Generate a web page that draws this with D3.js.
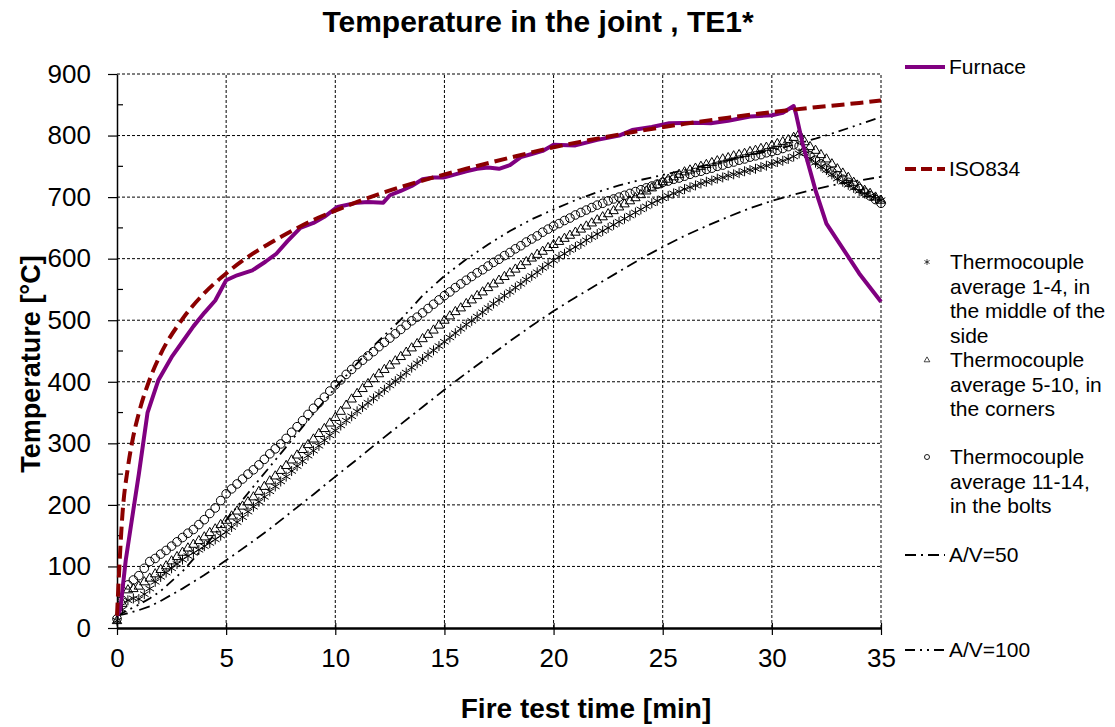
<!DOCTYPE html>
<html>
<head>
<meta charset="utf-8">
<script src="https://cdn.jsdelivr.net/npm/d3@7"></script>
<style>
  body { margin: 0; background: #fff; }
  svg { font-family: "Liberation Sans", Arial, sans-serif; }
</style>
</head>
<body>
<div id="vis"></div>
<script>
// ************************** DATA **************************//

// furnace measurement (time in min, temperature in °C)
var furnaceTime = [0, 0.15, 0.4, 0.75, 1, 1.4, 1.9, 2.5, 3, 3.5, 4, 4.5, 5, 5.5, 6.2, 6.8, 7.3, 7.8, 8.4, 9, 9.5, 10.1, 11, 11.5, 12.2, 12.5, 13, 13.5, 14, 14.5, 15, 15.5, 16, 16.5, 17, 17.5, 18, 18.5, 19, 19.5, 20, 21, 22, 23, 23.6, 24.5, 25.3, 26.5, 27.2, 28, 29, 30, 30.5, 31, 31.1, 31.4, 32, 32.5, 33.3, 34, 35];
var furnaceTemp = [20, 30, 110, 192, 250, 350, 403, 440, 465, 490, 512, 532, 565, 573, 581, 595, 608, 628, 650, 658, 668, 684, 691, 692, 691, 703, 710, 718, 729, 732, 732, 737, 742, 746, 748, 746, 752, 765, 770, 775, 785, 784, 793, 800, 809, 814, 820, 821, 820, 824, 831, 833, 837, 848, 836, 788, 711, 657, 614, 576, 530];

// ISO834 standard curve
var isoTime = [0, 0.25, 0.5, 0.75, 1, 1.5, 2, 3, 4, 5, 6, 7, 8, 9, 10, 12, 14, 16, 18, 20, 22, 24, 26, 28, 30, 32, 34, 35];
var isoTemp = [20, 185, 261, 312, 349, 404, 445, 502, 544, 576, 603, 625, 645, 663, 678, 705, 727, 746, 764, 781, 795, 808, 819, 829, 838, 846, 853, 857];

// calculated steel temperatures
var avTime = [0, 0.5, 1, 1.5, 2, 3, 4, 5, 6, 7, 8, 9, 10, 11, 12, 13, 14, 15, 16, 17, 18, 19, 20, 21, 22, 23, 24, 25, 26, 27, 28, 29, 30, 31, 32, 33, 34, 35];
var av50 = [20, 24, 29, 35, 44, 64, 86, 110, 135, 161, 189, 217, 246, 274, 303, 331, 359, 387, 414, 440, 466, 491, 515, 537, 558, 579, 600, 619, 637, 653, 668, 682, 694, 704, 713, 721, 727, 733];
var av100 = [20, 29, 38, 48, 60, 92, 132, 175, 219, 262, 305, 348, 390, 430, 467, 501, 540, 572, 599, 623, 645, 664, 680, 695, 708, 719, 728, 736, 744, 752, 760, 768, 776, 785, 795, 806, 818, 830];

// thermocouple averages, one reading every 15 s
var tcTime = d3.range(0, 35.001, 0.25);
var tc1_4 = [
  12, 30, 45, 48, 47, 55, 64, 75, 83, 90, 97, 104, 111, 117, 122, 127, 133, 138, 144, 150,
  156, 164, 172, 180, 189, 197, 205, 213, 222, 230, 238, 246, 255, 263, 271, 280, 288, 296, 305, 313,
  321, 329, 337, 344, 352, 359, 366, 373, 380, 387, 394, 401, 408, 415, 423, 430, 437, 444, 451, 458,
  465, 472, 479, 486, 493, 499, 506, 513, 520, 527, 533, 540, 546, 553, 559, 566, 572, 578, 585, 591,
  597, 603, 608, 614, 619, 624, 630, 635, 640, 645, 650, 655, 660, 665, 670, 675, 680, 685, 690, 694,
  698, 702, 706, 709, 713, 716, 719, 722, 725, 727, 730, 732, 735, 737, 739, 742, 744, 746, 749, 751,
  754, 757, 759, 762, 766, 771, 772, 763, 756, 750, 744, 737, 730, 725, 720, 715, 710, 706, 702, 698,
  695];
var tc5_10 = [
  12, 40, 62, 64, 68, 75, 81, 88, 95, 101, 109, 116, 123, 130, 136, 142, 148, 155, 161, 168,
  175, 182, 190, 198, 205, 213, 222, 230, 239, 247, 256, 264, 273, 281, 290, 298, 307, 316, 324, 333,
  342, 352, 362, 372, 381, 389, 397, 405, 413, 420, 427, 434, 441, 448, 455, 462, 470, 477, 484, 492,
  500, 507, 514, 520, 527, 533, 540, 546, 553, 559, 565, 571, 577, 583, 589, 595, 601, 607, 612, 618,
  623, 628, 633, 638, 643, 648, 653, 658, 663, 668, 673, 678, 684, 689, 694, 699, 704, 710, 715, 720,
  725, 729, 733, 737, 741, 744, 747, 750, 753, 756, 759, 762, 764, 767, 769, 771, 774, 776, 779, 781,
  784, 787, 790, 793, 797, 803, 790, 782, 776, 769, 762, 754, 746, 739, 732, 724, 717, 711, 706, 700,
  695];
var tc11_14 = [
  15, 45, 70, 78, 85, 97, 108, 113, 120, 126, 133, 140, 147, 154, 160, 168, 176, 186, 195, 207,
  218, 226, 234, 242, 250, 257, 265, 274, 283, 291, 299, 308, 318, 327, 337, 347, 357, 366, 375, 385,
  395, 403, 412, 420, 428, 435, 442, 449, 457, 464, 471, 478, 485, 492, 499, 505, 512, 519, 526, 533,
  540, 546, 553, 559, 565, 571, 577, 582, 588, 594, 599, 605, 610, 616, 621, 627, 632, 637, 643, 648,
  653, 657, 662, 666, 671, 675, 679, 683, 687, 690, 694, 697, 700, 703, 706, 709, 712, 715, 718, 721,
  724, 726, 729, 731, 734, 737, 740, 742, 745, 747, 750, 752, 755, 757, 760, 762, 765, 767, 769, 772,
  774, 776, 779, 782, 785, 783, 774, 767, 760, 754, 747, 741, 735, 729, 724, 719, 714, 708, 702, 696,
  690];

var xTicks = [0, 5, 10, 15, 20, 25, 30, 35];
var yTicks = [0, 100, 200, 300, 400, 500, 600, 700, 800, 900];
var yMinorTicks = [50, 150, 250, 350, 450, 550, 650, 750, 850];

// ************************** LAYOUT **************************//

var width = 1115, height = 727;
var margin = {left: 117, top: 74, right: 234, bottom: 99};

var svg = d3.select("#vis").append("svg")
  .attr("width", width)
  .attr("height", height);

var x = d3.scaleLinear().domain([0, 35]).range([margin.left, width - margin.right]);
var y = d3.scaleLinear().domain([0, 900]).range([height - margin.bottom, margin.top]);

// grid
var grid = svg.append("g");
grid.selectAll(".gx").data(xTicks.filter(d => d > 0)).join("line")
  .attr("x1", d => x(d)).attr("x2", d => x(d))
  .attr("y1", y(0)).attr("y2", y(900))
  .attr("stroke", "#000").attr("stroke-width", 1).attr("stroke-dasharray", "3,2");
grid.selectAll(".gy").data(yTicks.filter(d => d > 0)).join("line")
  .attr("x1", x(0)).attr("x2", x(35))
  .attr("y1", d => y(d)).attr("y2", d => y(d))
  .attr("stroke", "#000").attr("stroke-width", 1).attr("stroke-dasharray", "3,2");

// axes
var yAxis = svg.append("g")
  .attr("transform", `translate(${x(0)},0)`)
  .call(d3.axisLeft(y).tickValues(yTicks).tickSize(9).tickSizeOuter(0).tickPadding(17))
  .call(g => g.select(".domain").attr("stroke-width", 1.5))
  .call(g => g.selectAll(".tick line").attr("stroke-width", 1.2))
  .call(g => g.selectAll(".tick text").attr("font-size", "26px").attr("font-family", "Liberation Sans, Arial, sans-serif").attr("fill", "#000"));

svg.append("g").selectAll("line").data(yMinorTicks).join("line")
  .attr("x1", x(0)).attr("x2", x(0) + 6)
  .attr("y1", d => y(d)).attr("y2", d => y(d))
  .attr("stroke", "#000").attr("stroke-width", 1.2);

var xAxis = svg.append("g")
  .attr("transform", `translate(0,${y(0)})`)
  .call(d3.axisBottom(x).tickValues(xTicks).tickSize(7).tickSizeOuter(0).tickPadding(14))
  .call(g => g.select(".domain").attr("stroke-width", 2.5))
  .call(g => g.selectAll(".tick line").attr("y1", -5).attr("stroke-width", 1.2))
  .call(g => g.selectAll(".tick text").attr("font-size", "26px").attr("font-family", "Liberation Sans, Arial, sans-serif").attr("fill", "#000"));

// titles
svg.append("text")
  .attr("x", 538).attr("y", 32)
  .attr("text-anchor", "middle")
  .attr("font-size", "30px").attr("font-weight", "bold")
  .text("Temperature in the joint , TE1*");

svg.append("text")
  .attr("x", 586).attr("y", 718)
  .attr("text-anchor", "middle")
  .attr("font-size", "28px").attr("font-weight", "bold")
  .text("Fire test time [min]");

svg.append("text")
  .attr("transform", `translate(40,364) rotate(-90)`)
  .attr("text-anchor", "middle")
  .attr("font-size", "27px").attr("font-weight", "bold")
  .text("Temperature [°C]");

// ************************** SERIES **************************//

var line = d3.line().x(d => x(d[0])).y(d => y(d[1]));
var zip = (a, b) => a.map((t, i) => [t, b[i]]);

var asterisk = "M0,-5L0,5M-4.3,-2.5L4.3,2.5M-4.3,2.5L4.3,-2.5";
var triangle = "M0,-5.2L4.7,3L-4.7,3Z";

var marks = svg.append("g");

function drawMarkers(values, shape) {
  var g = marks.append("g");
  if (shape === "circle") {
    g.selectAll("circle").data(zip(tcTime, values)).join("circle")
      .attr("cx", d => x(d[0])).attr("cy", d => y(d[1])).attr("r", 4.3)
      .attr("fill", "none").attr("stroke", "#000").attr("stroke-width", 1);
  } else {
    g.selectAll("path").data(zip(tcTime, values)).join("path")
      .attr("transform", d => `translate(${x(d[0])},${y(d[1])})`)
      .attr("d", shape === "tri" ? triangle : asterisk)
      .attr("fill", "none").attr("stroke", "#000").attr("stroke-width", 1);
  }
}

drawMarkers(tc1_4, "ast");
drawMarkers(tc5_10, "tri");
drawMarkers(tc11_14, "circle");

marks.append("path").datum(zip(avTime, av50))
  .attr("d", line).attr("fill", "none").attr("stroke", "#000")
  .attr("stroke-width", 1.8).attr("stroke-dasharray", "11,5,2,5");
marks.append("path").datum(zip(avTime, av100))
  .attr("d", line).attr("fill", "none").attr("stroke", "#000")
  .attr("stroke-width", 1.8).attr("stroke-dasharray", "10,5,2,5,2,5");

marks.append("path").datum(zip(furnaceTime, furnaceTemp))
  .attr("d", line).attr("fill", "none").attr("stroke", "#800080")
  .attr("stroke-width", 4).attr("stroke-linejoin", "round");
marks.append("path").datum(zip(isoTime, isoTemp))
  .attr("d", d3.line().curve(d3.curveMonotoneX).x(d => x(d[0])).y(d => y(d[1])))
  .attr("fill", "none").attr("stroke", "#8b0000")
  .attr("stroke-width", 4).attr("stroke-dasharray", "13,6");

// ************************** LEGEND **************************//

var legend = svg.append("g").attr("font-size", "21px");
var lx0 = 905, lx1 = 945, tx = 949;

function legendLine(yy, color, w, dash, label) {
  legend.append("line").attr("x1", lx0).attr("x2", lx1).attr("y1", yy).attr("y2", yy)
    .attr("stroke", color).attr("stroke-width", w).attr("stroke-dasharray", dash);
  legend.append("text").attr("x", tx).attr("y", yy + 7).text(label);
}

function legendMarker(yy, shape, lines) {
  if (shape === "circle") {
    legend.append("circle").attr("cx", 927).attr("cy", yy).attr("r", 2.5)
      .attr("fill", "none").attr("stroke", "#000").attr("stroke-width", 0.9);
  } else {
    legend.append("path").attr("transform", `translate(927,${yy}) scale(0.6)`)
      .attr("d", shape === "tri" ? triangle : asterisk)
      .attr("fill", "none").attr("stroke", "#000").attr("stroke-width", 1.2);
  }
  var t = legend.append("text").attr("x", 950).attr("y", yy + 7);
  lines.forEach((s, i) => t.append("tspan").attr("x", 950).attr("dy", i ? 24.5 : 0).text(s));
}

legendLine(67, "#800080", 4, null, "Furnace");
legendLine(169, "#8b0000", 4, "11,5", "ISO834");
legendMarker(262, "ast", ["Thermocouple", "average 1-4, in", "the middle of the", "side"]);
legendMarker(360, "tri", ["Thermocouple", "average 5-10, in", "the corners"]);
legendMarker(457, "circle", ["Thermocouple", "average 11-14,", "in the bolts"]);
legendLine(555, "#000", 1.8, "11,5,2,5", "A/V=50");
legendLine(650, "#000", 1.8, "10,5,2,5,2,5", "A/V=100");
</script>
</body>
</html>
